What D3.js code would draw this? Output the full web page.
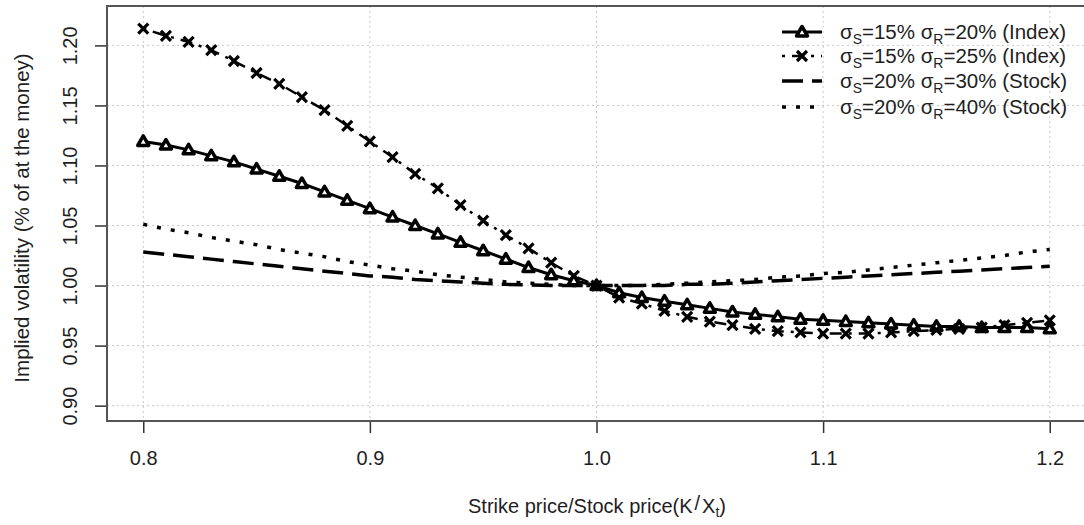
<!DOCTYPE html>
<html>
<head>
<meta charset="utf-8">
<script src="https://cdn.jsdelivr.net/npm/d3@7"></script>
<style>
  body { margin: 0; background: #fff; }
  text { font-family: "Liberation Sans", Arial, sans-serif; fill: #1e1e1e; }
</style>
</head>
<body>
<div id="chart"></div>
<script>
// Strike / stock price ratios (x values)
var strikeRatio = [0.80, 0.81, 0.82, 0.83, 0.84, 0.85, 0.86, 0.87, 0.88, 0.89,
  0.90, 0.91, 0.92, 0.93, 0.94, 0.95, 0.96, 0.97, 0.98, 0.99,
  1.00, 1.01, 1.02, 1.03, 1.04, 1.05, 1.06, 1.07, 1.08, 1.09,
  1.10, 1.11, 1.12, 1.13, 1.14, 1.15, 1.16, 1.17, 1.18, 1.19, 1.20];

// sigmaS=15% sigmaR=20% (Index)
var index15_20 = [1.120, 1.117, 1.113, 1.108, 1.103, 1.097, 1.091, 1.085, 1.078, 1.071,
  1.064, 1.057, 1.050, 1.043, 1.036, 1.029, 1.022, 1.015, 1.009, 1.004,
  1.000, 0.994, 0.990, 0.987, 0.984, 0.981, 0.978, 0.976, 0.974, 0.972,
  0.971, 0.970, 0.969, 0.968, 0.967, 0.966, 0.966, 0.965, 0.965, 0.965, 0.964];

// sigmaS=15% sigmaR=25% (Index)
var index15_25 = [1.214, 1.208, 1.203, 1.196, 1.187, 1.177, 1.168, 1.157, 1.146, 1.133,
  1.120, 1.107, 1.093, 1.081, 1.067, 1.054, 1.042, 1.031, 1.019, 1.008,
  1.000, 0.990, 0.985, 0.979, 0.974, 0.970, 0.967, 0.964, 0.962, 0.961,
  0.960, 0.960, 0.960, 0.961, 0.962, 0.963, 0.964, 0.965, 0.967, 0.969, 0.971];

// sigmaS=20% sigmaR=30% (Stock)
var stock20_30 = [1.028, 1.026, 1.024, 1.022, 1.020, 1.018, 1.016, 1.014, 1.012, 1.010,
  1.008, 1.007, 1.005, 1.004, 1.003, 1.002, 1.001, 1.0005, 1.000, 1.000,
  1.000, 1.000, 1.000, 1.000, 1.001, 1.001, 1.002, 1.003, 1.004, 1.005,
  1.006, 1.007, 1.008, 1.009, 1.010, 1.011, 1.012, 1.013, 1.014, 1.015, 1.016];

// sigmaS=20% sigmaR=40% (Stock)
var stock20_40 = [1.051, 1.047, 1.044, 1.040, 1.037, 1.034, 1.030, 1.027, 1.024, 1.020,
  1.017, 1.014, 1.012, 1.009, 1.007, 1.005, 1.003, 1.002, 1.001, 1.000,
  1.000, 1.000, 1.000, 1.001, 1.002, 1.003, 1.004, 1.005, 1.007, 1.008,
  1.010, 1.011, 1.013, 1.015, 1.017, 1.019, 1.021, 1.023, 1.025, 1.028, 1.030];

// Tick values
var xTicks = [0.8, 0.9, 1.0, 1.1, 1.2];
var yTicks = [0.90, 0.95, 1.00, 1.05, 1.10, 1.15, 1.20];

// Legend parts
var legendSigmaS = ["15%", "15%", "20%", "20%"];
var legendSigmaR = ["20%", "25%", "30%", "40%"];
var legendKind = ["(Index)", "(Index)", "(Stock)", "(Stock)"];

// SVG area
var svg__Width = 1084;
var svg__Height = 525;

// Plot region (R style: 4% padding around data range)
var plot = { left: 107, top: 6, right: 1086, bottom: 421 };

var svg = d3.select("#chart")
  .append("svg")
  .attr("width", svg__Width)
  .attr("height", svg__Height);

var xScale = d3.scaleLinear()
  .domain([0.784, 1.216])
  .range([plot.left, plot.right]);

var yScale = d3.scaleLinear()
  .domain([0.8872, 1.2328])
  .range([plot.bottom, plot.top]);

// Grid lines
svg.append("g").selectAll("line")
  .data(xTicks)
  .enter()
  .append("line")
  .attr("x1", d => xScale(d))
  .attr("x2", d => xScale(d))
  .attr("y1", plot.top)
  .attr("y2", plot.bottom)
  .attr("stroke", "#c8c8c8")
  .attr("stroke-width", 1)
  .attr("stroke-dasharray", "2,3");

svg.append("g").selectAll("line")
  .data(yTicks)
  .enter()
  .append("line")
  .attr("x1", plot.left)
  .attr("x2", plot.right)
  .attr("y1", d => yScale(d))
  .attr("y2", d => yScale(d))
  .attr("stroke", "#c8c8c8")
  .attr("stroke-width", 1)
  .attr("stroke-dasharray", "2,3");

// Axes
var bottom__Axis = d3.axisBottom(xScale)
  .tickValues(xTicks)
  .tickSize(12)
  .tickPadding(18)
  .tickFormat(d3.format(".1f"));

var left__Axis = d3.axisLeft(yScale)
  .tickValues(yTicks)
  .tickSize(12)
  .tickFormat(d3.format(".2f"));

var xAxisG = svg.append("g")
  .attr("transform", `translate(0, ${plot.bottom})`)
  .call(bottom__Axis);

xAxisG.select(".domain").remove();
xAxisG.selectAll(".tick line").attr("stroke", "#333").attr("stroke-width", 1.5);
xAxisG.selectAll(".tick text")
  .attr("font-size", 20)
  .attr("fill", "#1e1e1e")
  .style("font-family", "Liberation Sans, Arial, sans-serif");

var yAxisG = svg.append("g")
  .attr("transform", `translate(${plot.left}, 0)`)
  .call(left__Axis);

yAxisG.select(".domain").remove();
yAxisG.selectAll(".tick line").attr("stroke", "#333").attr("stroke-width", 1.5);
yAxisG.selectAll(".tick text")
  .attr("font-size", 20)
  .attr("fill", "#1e1e1e")
  .attr("x", null)
  .attr("dy", null)
  .attr("text-anchor", "middle")
  .attr("transform", "translate(-30, 0) rotate(-90)")
  .style("font-family", "Liberation Sans, Arial, sans-serif");

// Plot box
svg.append("rect")
  .attr("x", plot.left)
  .attr("y", plot.top)
  .attr("width", plot.right - plot.left)
  .attr("height", plot.bottom - plot.top)
  .attr("fill", "none")
  .attr("stroke", "#555")
  .attr("stroke-width", 2);

// Series definitions
var series = [
  { values: index15_20, dash: null, width: 3, marker: "triangle" },
  { values: index15_25, dash: "3,7,12,7", width: 2.5, marker: "cross" },
  { values: stock20_30, dash: "21,9", width: 3.5, marker: null },
  { values: stock20_40, dash: "4,10", width: 3.5, marker: null }
];

var line = d3.line()
  .x((d, i) => xScale(strikeRatio[i]))
  .y(d => yScale(d));

var triPath = "M0,-5.5 L5.5,4 L-5.5,4 Z";
var crossPath = "M-5,-5 L5,5 M-5,5 L5,-5";

var plotG = svg.append("g");

series.forEach(function(s) {
  plotG.append("path")
    .datum(s.values)
    .attr("d", line)
    .attr("fill", "none")
    .attr("stroke", "#000")
    .attr("stroke-width", s.width)
    .attr("stroke-dasharray", s.dash);

  if (s.marker) {
    plotG.selectAll(null)
      .data(s.values)
      .enter()
      .append("path")
      .attr("transform", (d, i) => `translate(${xScale(strikeRatio[i])}, ${yScale(d)})`)
      .attr("d", s.marker === "triangle" ? triPath : crossPath)
      .attr("fill", s.marker === "triangle" ? "#fff" : "none")
      .attr("stroke", "#000")
      .attr("stroke-width", s.marker === "triangle" ? 3.5 : 3.2)
      .attr("stroke-linejoin", "round");
  }
});

// Legend
var legendRowY = [32, 56, 81, 107];
var legend = svg.append("g");

series.forEach(function(s, i) {
  var y = legendRowY[i];
  legend.append("line")
    .attr("x1", 782)
    .attr("x2", 822)
    .attr("y1", y)
    .attr("y2", y)
    .attr("stroke", "#000")
    .attr("stroke-width", s.width)
    .attr("stroke-dasharray", s.dash);

  if (s.marker) {
    legend.append("path")
      .attr("transform", `translate(802, ${y})`)
      .attr("d", s.marker === "triangle" ? triPath : crossPath)
      .attr("fill", s.marker === "triangle" ? "#fff" : "none")
      .attr("stroke", "#000")
      .attr("stroke-width", s.marker === "triangle" ? 3.5 : 3.2)
      .attr("stroke-linejoin", "round");
  }

  var t = legend.append("text")
    .attr("x", 840)
    .attr("y", y + 7)
    .attr("font-size", 20.5);
  t.append("tspan").text("σ");
  t.append("tspan").attr("font-size", 14).attr("dy", 5).text("S");
  t.append("tspan").attr("dy", -5).text("=" + legendSigmaS[i] + " σ");
  t.append("tspan").attr("font-size", 14).attr("dy", 5).text("R");
  t.append("tspan").attr("dy", -5).text("=" + legendSigmaR[i] + " " + legendKind[i]);
});

// Axis titles
var xTitle = svg.append("text")
  .attr("x", 597)
  .attr("y", 513)
  .attr("text-anchor", "middle")
  .attr("font-size", 20);
xTitle.append("tspan").text("Strike price/Stock price(K");
xTitle.append("tspan").attr("dx", 2).attr("dy", -3).text("/");
xTitle.append("tspan").attr("dx", 2).attr("dy", 3).text("X");
xTitle.append("tspan").attr("font-size", 14).attr("dy", 4).text("t");
xTitle.append("tspan").attr("dy", -4).text(")");

svg.append("text")
  .attr("transform", "translate(29, 218) rotate(-90)")
  .attr("text-anchor", "middle")
  .attr("font-size", 20.5)
  .text("Implied volatility (% of at the money)");
</script>
</body>
</html>
